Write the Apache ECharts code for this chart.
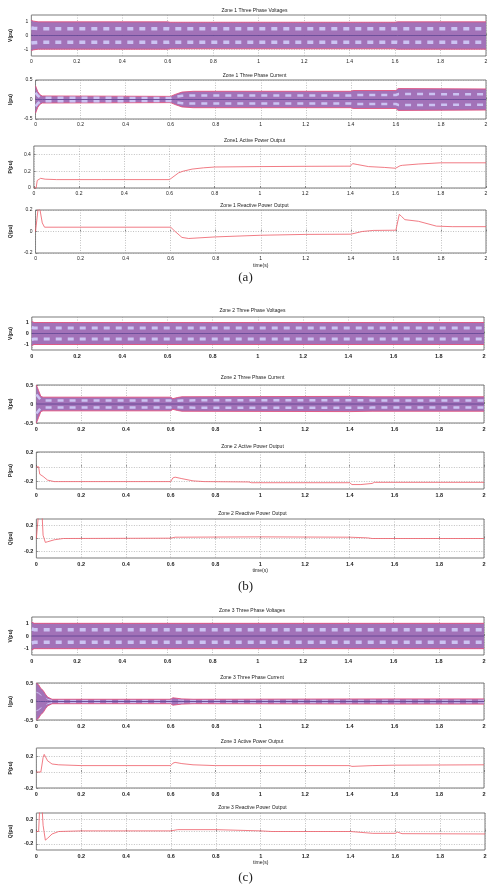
<!DOCTYPE html>
<html><head><meta charset="utf-8">
<script src="https://cdn.jsdelivr.net/npm/echarts@6/dist/echarts.min.js"></script>
<style>html,body{margin:0;padding:0;background:#fff}#c{width:491px;height:885px}</style>
</head><body><div id="c"></div><script>
// ---------- text ----------
const titles = [
  'Zone 1 Three Phase Voltages','Zone 1 Three Phase Current','Zone1 Active Power Output','Zone 1 Reactive Power Output',
  'Zone 2 Three Phase Voltages','Zone 2 Three Phase Current','Zone 2 Active Power Output','Zone 2 Reactive Power Output',
  'Zone 3 Three Phase Voltages','Zone 3 Three Phase Current','Zone 3 Active Power Output','Zone 3 Reactive Power Output'
];
const yNames = ['V(pu)','I(pu)','P(pu)','Q(pu)','V(pu)','I(pu)','P(pu)','Q(pu)','V(pu)','I(pu)','P(pu)','Q(pu)'];
const captions = ['(a)','(b)','(c)'];
const xName = 'time(s)';
// ---------- tick labels ----------
const vTicks = [-1, 0, 1];
const iTicks = [-0.5, 0, 0.5];
const p1Ticks = [0, 0.2, 0.4];
const pqTicks = [-0.2, 0, 0.2];
// ---------- envelope amplitudes of the three-phase waveforms ----------
const z1V_t = [0, 0.01, 0.03, 0.6, 0.61, 1.6, 1.61, 2.0];
const z1V_a = [1.1, 1.05, 1.0, 1.0, 0.97, 0.97, 1.0, 1.0];
const z1I_t = [0, 0.005, 0.01, 0.02, 0.03, 0.6, 0.62, 0.65, 0.7, 1.4, 1.41, 1.6, 1.61, 2.0];
const z1I_a = [0.35, 0.3, 0.2, 0.12, 0.09, 0.08, 0.13, 0.19, 0.21, 0.21, 0.23, 0.23, 0.28, 0.27];
const z2V_t = [0, 0.01, 2.0];
const z2V_a = [1.1, 1.0, 1.0];
const z2I_t = [0, 0.005, 0.01, 0.02, 0.03, 0.6, 0.61, 0.63, 0.65, 1.4, 1.5, 2.0];
const z2I_a = [0.5, 0.45, 0.35, 0.2, 0.18, 0.18, 0.14, 0.17, 0.19, 0.2, 0.19, 0.19];
const z3V_t = [0, 0.01, 2.0];
const z3V_a = [1.1, 1.0, 1.0];
const z3I_t = [0, 0.01, 0.02, 0.03, 0.04, 0.05, 0.07, 0.6, 0.61, 0.65, 0.7, 1.6, 2.0];
const z3I_a = [0.5, 0.45, 0.35, 0.3, 0.2, 0.12, 0.06, 0.06, 0.1, 0.07, 0.06, 0.07, 0.07];
// ---------- power outputs ----------
const z1P_t = [0, 0.01, 0.015, 0.03, 0.05, 0.1, 0.3, 0.6, 0.62, 0.64, 0.66, 0.7, 0.75, 0.8, 1.0, 1.2, 1.4, 1.41, 1.43, 1.48, 1.55, 1.6, 1.62, 1.63, 1.7, 1.8, 2.0];
const z1P_v = [0, 0, 0.09, 0.115, 0.105, 0.1, 0.1, 0.1, 0.14, 0.18, 0.2, 0.225, 0.24, 0.25, 0.255, 0.258, 0.26, 0.29, 0.28, 0.255, 0.245, 0.235, 0.265, 0.27, 0.285, 0.3, 0.3];
const z1Q_t = [0, 0.008, 0.012, 0.02, 0.03, 0.04, 0.1, 0.6, 0.62, 0.65, 0.68, 0.8, 1.0, 1.2, 1.4, 1.45, 1.5, 1.6, 1.615, 1.625, 1.64, 1.7, 1.78, 1.85, 2.0];
const z1Q_v = [0, 0, 0.22, 0.2, 0.08, 0.04, 0.04, 0.04, 0.0, -0.055, -0.065, -0.05, -0.035, -0.027, -0.025, 0.0, 0.01, 0.012, 0.16, 0.14, 0.11, 0.095, 0.05, 0.045, 0.045];
const z2P_t = [0, 0.01, 0.015, 0.02, 0.03, 0.05, 0.08, 0.1, 0.6, 0.61, 0.62, 0.65, 0.7, 0.75, 0.95, 0.96, 1.2, 1.4, 1.41, 1.45, 1.5, 1.51, 1.6, 2.0];
const z2P_v = [0, 0, -0.1, -0.12, -0.13, -0.18, -0.2, -0.2, -0.2, -0.15, -0.14, -0.16, -0.19, -0.2, -0.205, -0.215, -0.215, -0.215, -0.24, -0.24, -0.225, -0.21, -0.21, -0.21];
const z2Q_t = [0, 0.005, 0.01, 0.025, 0.03, 0.04, 0.05, 0.08, 0.12, 0.6, 0.62, 0.64, 1.0, 1.4, 1.48, 1.5, 2.0];
const z2Q_v = [0, 0, 0.4, 0.4, 0.05, -0.06, -0.05, -0.02, 0.0, 0.005, 0.02, 0.02, 0.025, 0.02, 0.01, 0.0, 0.0];
const z3P_t = [0, 0.02, 0.03, 0.035, 0.04, 0.05, 0.07, 0.1, 0.2, 0.6, 0.61, 0.62, 0.65, 0.7, 0.8, 1.4, 1.41, 1.5, 1.6, 2.0];
const z3P_v = [0, 0, 0.18, 0.22, 0.2, 0.14, 0.1, 0.09, 0.08, 0.08, 0.11, 0.12, 0.105, 0.09, 0.08, 0.08, 0.07, 0.08, 0.085, 0.09];
const z3Q_t = [0, 0.01, 0.015, 0.025, 0.03, 0.04, 0.05, 0.07, 0.1, 0.2, 0.6, 0.63, 0.8, 1.0, 1.05, 1.4, 1.5, 1.6, 1.61, 1.63, 2.0];
const z3Q_v = [0, 0, 0.4, 0.4, 0.1, -0.14, -0.11, -0.04, 0.0, 0.01, 0.01, 0.03, 0.03, 0.01, 0.0, 0.0, -0.03, -0.03, -0.01, -0.035, -0.04];

// ---------- panel definitions ----------
const panels = [
  {kind:'band', t:z1V_t, a:z1V_a, min:-1.5, max:1.5, ticks:vTicks, dw:3.5},
  {kind:'band', t:z1I_t, a:z1I_a, min:-0.5, max:0.5, ticks:iTicks, dw:2.5},
  {kind:'line', t:z1P_t, v:z1P_v, min:0, max:0.5, ticks:p1Ticks},
  {kind:'line', t:z1Q_t, v:z1Q_v, min:-0.2, max:0.2, ticks:pqTicks, xname:true},
  {kind:'band', t:z2V_t, a:z2V_a, min:-1.5, max:1.5, ticks:vTicks, dw:3},
  {kind:'band', t:z2I_t, a:z2I_a, min:-0.5, max:0.5, ticks:iTicks, dw:2.5},
  {kind:'line', t:z2P_t, v:z2P_v, min:-0.3, max:0.2, ticks:pqTicks},
  {kind:'line', t:z2Q_t, v:z2Q_v, min:-0.3, max:0.3, ticks:pqTicks, xname:true},
  {kind:'band', t:z3V_t, a:z3V_a, min:-1.5, max:1.5, ticks:vTicks, dw:3.5},
  {kind:'band', t:z3I_t, a:z3I_a, min:-0.5, max:0.5, ticks:iTicks, dw:1},
  {kind:'line', t:z3P_t, v:z3P_v, min:-0.2, max:0.3, ticks:pqTicks},
  {kind:'line', t:z3Q_t, v:z3Q_v, min:-0.3, max:0.3, ticks:pqTicks, xname:true}
];
// layout: [left, top, width, height], title centre y
const boxes = [[23,15,463,41],[23,80,463,39],[23,146,463,42],[23,210,463,43],
               [21,317,463,33],[21,385,463,38],[21,452,463,37],[21,519,463,39],
               [20,617,464,38],[20,683,464,37],[20,748,464,40],[20,813,465,37]];
const titleY = [10,75,140,205,310,377,446,513,610,677,741,807];
const capY = [279,588,879];

const grid=[], xAxis=[], yAxis=[], series=[], title=[];
panels.forEach((p,k)=>{
  const b = boxes[k];
  const fs = k < 4 ? 5 : 5.5;
  grid.push({left:b[0], top:b[1], width:b[2], height:b[3], show:true, borderColor:'#444', borderWidth:0.7, backgroundColor:'#fff'});
  title.push({text:titles[k], left:b[0]+b[2]/2, top:titleY[k]-2, textAlign:'center', padding:0,
    textStyle:{fontSize:5, fontWeight:'normal', color:'#222', fontFamily:'Liberation Sans'}});
  xAxis.push({type:'value', gridIndex:k, min:0, max:2, interval:0.2,
    axisLine:{show:false}, axisTick:{show:true, inside:true, length:2, lineStyle:{color:'#444', width:0.5}},
    axisLabel:{fontSize:fs, color:'#222', margin:3, fontFamily:'Liberation Sans', fontWeight: k<4?'normal':'bold'},
    splitLine:{show:true, lineStyle:{color:'#999', width:0.6, type:[1,1.5]}},
    name: p.xname ? xName : '', nameLocation:'middle', nameGap:10,
    nameTextStyle:{fontSize:5, color:'#222', fontFamily:'Liberation Sans'}});
  yAxis.push({type:'value', gridIndex:k, min:p.min, max:p.max,
    axisLine:{show:false},
    axisTick:{show:true, inside:true, length:2, customValues:p.ticks, lineStyle:{color:'#444', width:0.5}},
    axisLabel:{fontSize:fs, color:'#222', margin:3, customValues:p.ticks, fontFamily:'Liberation Sans', fontWeight: k<4?'normal':'bold'},
    splitLine:{show:true, lineStyle:{color:'#999', width:0.6, type:[1,1.5]}},
    name:yNames[k], nameLocation:'middle', nameGap:12, nameRotate:90,
    nameTextStyle:{fontSize:5, color:'#222', fontFamily:'Liberation Sans', fontWeight:'bold'}});
  const base = {type:'line', xAxisIndex:k, yAxisIndex:k, symbol:'none', silent:true, animation:false};
  if (p.kind === 'band') {
    const up = p.t.map((x,i)=>[x, p.a[i]]);
    const lo = p.t.map((x,i)=>[x, -p.a[i]]);
    const upH = p.t.map((x,i)=>[x, p.a[i]/2]);
    const loH = p.t.map((x,i)=>[x, -p.a[i]/2]);
    series.push(Object.assign({}, base, {data:up, lineStyle:{color:'#e0507e', width:0.9}, areaStyle:{color:'#a272b8', opacity:1}}));
    series.push(Object.assign({}, base, {data:lo, lineStyle:{color:'#e0507e', width:0.9}, areaStyle:{color:'#a272b8', opacity:1}}));
    series.push(Object.assign({}, base, {data:upH, lineStyle:{color:'#cbc3f2', width:p.dw, type:[6,6]}}));
    series.push(Object.assign({}, base, {data:loH, lineStyle:{color:'#cbc3f2', width:p.dw, type:[6,6]}}));
    series.push(Object.assign({}, base, {data:p.t.map(x=>[x,0]), lineStyle:{color:'#5a3f90', width:0.8}}));
  } else {
    series.push(Object.assign({}, base, {data:p.t.map((x,i)=>[x, p.v[i]]), lineStyle:{color:'#ee5a66', width:0.8}}));
  }
});
const graphic = captions.map((c,i)=>({type:'text', left:'center', top:capY[i]-8,
  style:{text:c, fontSize:13, fontFamily:'Liberation Serif', fill:'#222'}}));
const chart = echarts.init(document.getElementById('c'), null, {renderer:'canvas'});
chart.setOption({animation:false, title, grid, xAxis, yAxis, series, graphic});
</script></body></html>
